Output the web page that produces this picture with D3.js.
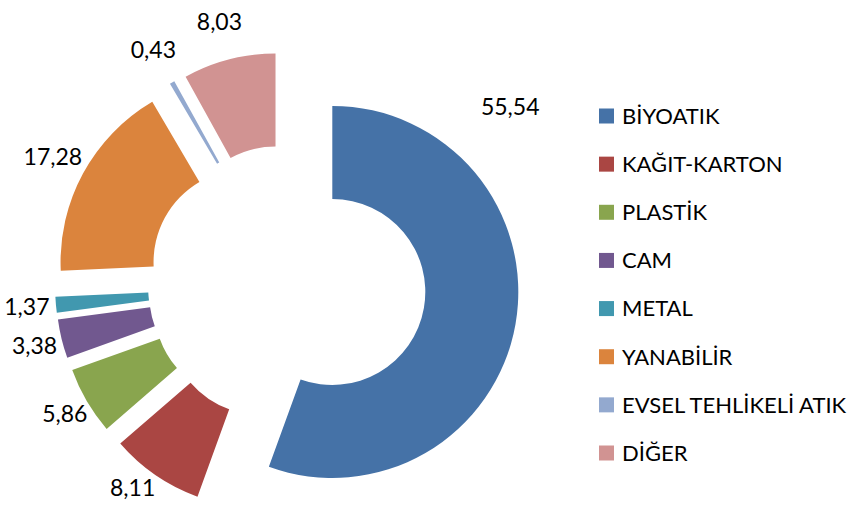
<!DOCTYPE html>
<html>
    <head>
        <meta charset="UTF-8">
        <title>Atık Kompozisyonu</title>
        <style type="text/css">
            body{ margin: 0; background: #fff; }
            text{ font-family: Lato, "Open Sans", sans-serif; fill: #000; }
            .label{ font-size: 23px; }
            .legend text{ font-size: 22px; }
        </style>
        <script src="https://cdn.jsdelivr.net/npm/d3@7"></script>
    </head>
    <body>
        <svg width="856" height="505"></svg>

        <script type="text/javascript">
            // values
            var categories = ["BİYOATIK", "KAĞIT-KARTON", "PLASTİK", "CAM", "METAL", "YANABİLİR", "EVSEL TEHLİKELİ ATIK", "DİĞER"];
            var values = [55.54, 8.11, 5.86, 3.38, 1.37, 17.28, 0.43, 8.03];
            var colors = ["#4572A7", "#AA4643", "#89A54E", "#71588F", "#4198AF", "#DB843D", "#93A9CF", "#D19392"];

            var svg = d3.select("svg"),
                width = +svg.attr("width"),
                height = +svg.attr("height"),
                cx = 287, cy = 284,
                outerR = 186, innerR = 93,
                explode = 46;

            var fmt = function(v){ return d3.format(".2f")(v).replace(".", ","); };

            var pie = d3.pie().sort(null).value(function(d){ return d; });
            var arc = d3.arc().innerRadius(innerR).outerRadius(outerR);
            var arcs = pie(values);

            var g = svg.append("g")
                .attr("transform", `translate(${cx},${cy})`);

            function mid(d){ return (d.startAngle + d.endAngle) / 2; }

            g.selectAll("path")
                .data(arcs)
                .enter().append("path")
                .attr("d", arc)
                .attr("fill", function(d, i){ return colors[i]; })
                .attr("transform", function(d){
                    var a = mid(d);
                    return `translate(${Math.sin(a) * explode},${-Math.cos(a) * explode})`;
                });

            // label spot: the big slice's label sits up to the right,
            // the rest on their mid angle, a bit further out near the top
            function labelPos(d, i){
                var a = i === 0 ? 0.9 : mid(d);
                var r = i === 0 ? outerR + explode + 53 : outerR + explode + 30 + 9 * Math.cos(a);
                var x = Math.sin(a) * r, y = -Math.cos(a) * r;
                // keep it inside the bottom edge, sliding it sideways instead
                var maxY = height - cy - 17;
                if (y > maxY) { y = maxY; x -= 10; }
                return [x, y];
            }

            g.selectAll("text.label")
                .data(arcs)
                .enter().append("text")
                .attr("class", "label")
                .attr("text-anchor", "middle")
                .attr("dy", "0.35em")
                .attr("x", function(d, i){ return labelPos(d, i)[0]; })
                .attr("y", function(d, i){ return labelPos(d, i)[1]; })
                .text(function(d){ return fmt(d.data); });

            var ly = d3.scalePoint()
                .domain(categories)
                .range([116, 453]);

            var legend = svg.append("g")
                .attr("class", "legend")
                .selectAll("g")
                .data(categories)
                .enter().append("g")
                .attr("transform", function(d){ return `translate(599,${ly(d)})`; });

            legend.append("rect")
                .attr("y", -7.5)
                .attr("width", 15)
                .attr("height", 15)
                .attr("fill", function(d, i){ return colors[i]; });

            legend.append("text")
                .attr("x", 23)
                .attr("dy", "0.36em")
                .text(function(d){ return d; });
        </script>
    </body>
</html>
